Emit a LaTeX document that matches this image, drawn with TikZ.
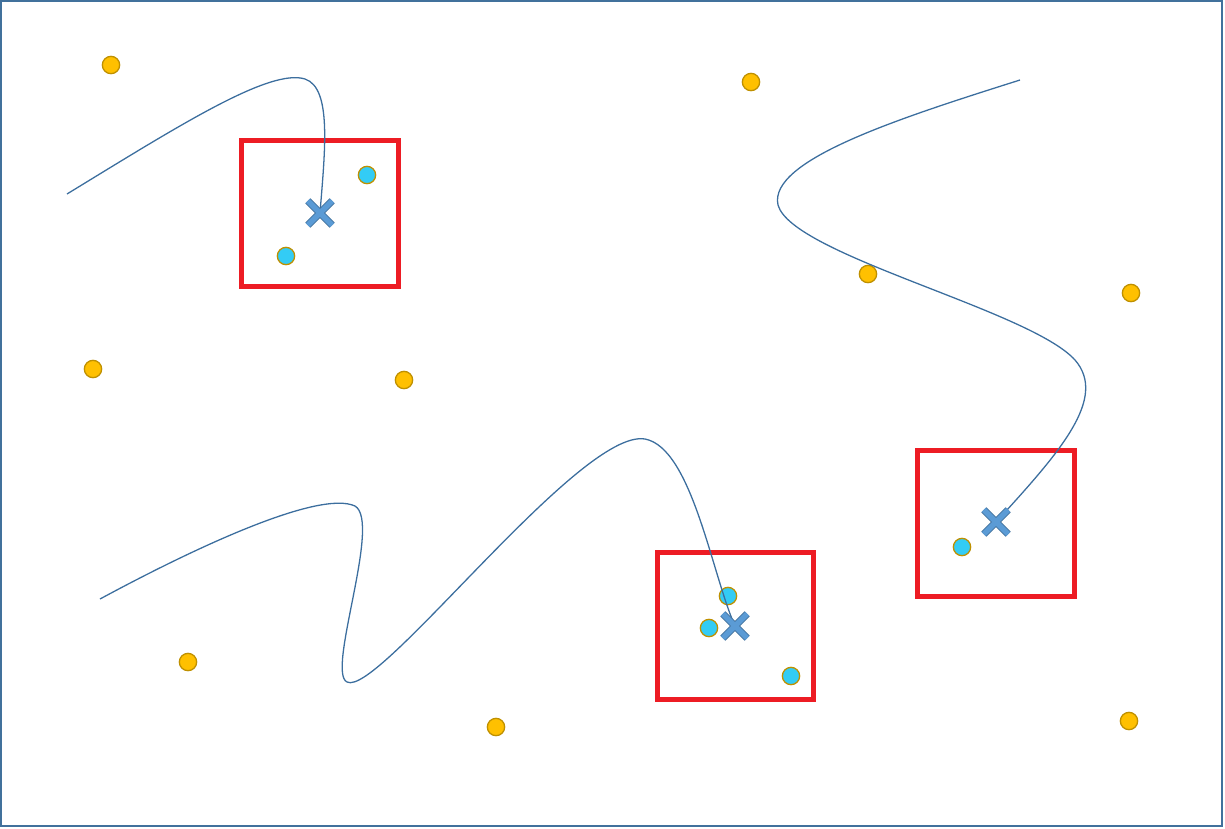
\documentclass[tikz,border=0pt]{standalone}
\usetikzlibrary{shapes.misc}
\definecolor{frameblue}{HTML}{41719C}
\definecolor{routeblue}{HTML}{3C6E9E}
\definecolor{xfill}{HTML}{5B9BD5}
\definecolor{boxred}{HTML}{ED1C24}
\definecolor{dotgold}{HTML}{FFC000}
\definecolor{dotedge}{HTML}{BF9000}
\definecolor{dotcyan}{HTML}{33CCF5}
\tikzset{
  pt/.style={draw=dotedge,circle,line width=1.1pt,inner sep=0pt,minimum size=0.52cm},
  far/.style={pt,fill=dotgold},
  near/.style={pt,fill=dotcyan},
  region/.style={draw=boxred,line width=4.3pt,inner sep=0pt,minimum width=4.7cm,minimum height=4.4cm},
  route/.style={draw=routeblue,line width=1.1pt},
  xmark/.style={cross out,draw=frameblue,double=xfill,double distance=4.6pt,line width=0.8pt,inner sep=0pt,minimum size=0.7cm}
}
\begin{document}
\begin{tikzpicture}[x=0.03cm,y=-0.03cm]
	\useasboundingbox (0,0) rectangle (1225,828);
	\draw [frameblue,line width=1.3pt] (1,1) rectangle (1222,826);
	% points outside the boxes
	\foreach \i/\x/\y in {1/111/65, 2/751/82, 3/93/369, 4/404/380, 5/868/274, 6/1131/293, 7/188/662, 8/496/727, 9/1129/721}{
		\node [far] at (\x,\y) (o\i) {};
	}
	% boxes
	\node [region] at (320,213.5) (b1) {};
	\node [region] at (735.5,626) (b2) {};
	\node [region] at (996,523.5) (b3) {};
	% points inside the boxes
	\foreach \i/\x/\y in {1/367/175, 2/286/256, 3/728/596, 4/709/628, 5/791/676, 6/962/547}{
		\node [near] at (\x,\y) (c\i) {};
	}
	\coordinate (s1) at (67,194);
	\coordinate (s2) at (1020,80);
	\coordinate (s3) at (100,599);
	\coordinate (p1) at (320,213);
	\coordinate (p2) at (735,626);
	\coordinate (p3) at (996,522);
	\draw [route] (s1) .. controls (180,125) and (270,68) .. (305,79) .. controls (332,88) and (325,150) .. (p1);
	\draw [route] (s2) .. controls (900,118) and (768,160) .. (778,205) .. controls (792,255) and (1030,310) .. (1075,360) .. controls (1108,398) and (1060,452) .. (p3);
	\draw [route] (s3) .. controls (200,545) and (320,490) .. (355,506) .. controls (382,522) and (326,672) .. (347,682) .. controls (378,698) and (580,428) .. (645,439) .. controls (692,448) and (712,575) .. (p2);
	\foreach \j in {1,2,3}{
		\node [xmark] at (p\j) (x\j) {};
	}
\end{tikzpicture}
\end{document}
